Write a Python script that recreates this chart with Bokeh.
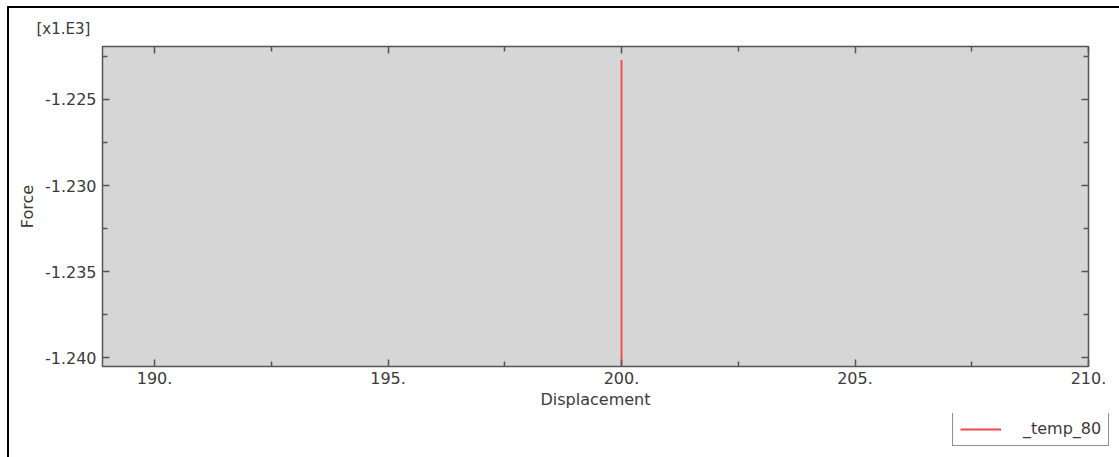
from bokeh.plotting import figure
from bokeh.layouts import column
from bokeh.models import (LinearAxis, FixedTicker, CustomJSTickFormatter, Range1d,
                          Legend, LegendItem)
from bokeh.embed import file_html
from bokeh.resources import INLINE

# data
displacement = [200.0, 200.0]
force = [-1222.7, -1241.0]
series_name = "_temp_80"
x_major = [190, 195, 200, 205, 210]
x_minor = [187.5, 192.5, 197.5, 202.5, 207.5]
y_major = [-1225, -1230, -1235, -1240]
y_minor = [-1222.5, -1227.5, -1232.5, -1237.5]

FONT = "DejaVu Sans"
TXT = "#3a3a3a"
LINE = "#f04848"

p = figure(width=1110, height=405, output_backend="svg", toolbar_location=None,
           x_range=Range1d(188.886, 210.0), y_range=Range1d(-1240.52, -1221.92),
           min_border_left=93, min_border_right=31, min_border_top=38,
           min_border_bottom=47, x_axis_location="below", y_axis_location="left")
p.frame_align = False
p.background_fill_color = "#d6d6d6"
p.border_fill_color = "white"
p.outline_line_color = "#555555"
p.outline_line_width = 1.5
p.xgrid.visible = False
p.ygrid.visible = False

p.title.text = "[x1.E3]"
p.title.align = "left"
p.title.offset = -66
p.title.text_font = FONT
p.title.text_font_size = "15px"
p.title.text_font_style = "normal"
p.title.text_color = TXT

xt = FixedTicker(ticks=x_major, minor_ticks=x_minor)
yt = FixedTicker(ticks=y_major, minor_ticks=y_minor)
xf = CustomJSTickFormatter(code="return tick.toFixed(0) + '.';")
yf = CustomJSTickFormatter(code="return (tick/1000).toFixed(3);")
blank = CustomJSTickFormatter(code="return ' ';")

def style_axis(ax):
    ax.axis_line_color = None
    ax.major_tick_in = 7
    ax.major_tick_out = 0
    ax.minor_tick_in = 5
    ax.minor_tick_out = 0
    ax.major_tick_line_color = "#555555"
    ax.minor_tick_line_color = "#555555"
    ax.major_tick_line_width = 1.5
    ax.minor_tick_line_width = 1.5
    ax.major_label_text_font = FONT
    ax.major_label_text_font_size = "16px"
    ax.major_label_text_color = TXT
    ax.axis_label_text_font = FONT
    ax.axis_label_text_font_size = "16px"
    ax.axis_label_text_font_style = "normal"
    ax.axis_label_text_color = TXT

p.xaxis.ticker = xt
p.xaxis.formatter = xf
p.yaxis.ticker = yt
p.yaxis.formatter = yf
style_axis(p.xaxis[0])
style_axis(p.yaxis[0])
p.xaxis.axis_label = "Displacement"
p.yaxis.axis_label = "Force"
p.xaxis.major_label_standoff = 5
p.xaxis.axis_label_standoff = 3
p.yaxis.major_label_standoff = 6
p.yaxis.axis_label_standoff = 5

top_ax = LinearAxis(ticker=xt, formatter=blank)
style_axis(top_ax)
top_ax.major_label_standoff = 0
top_ax.major_label_text_font_size = "1px"
p.add_layout(top_ax, "above")
right_ax = LinearAxis(ticker=yt, formatter=blank)
style_axis(right_ax)
right_ax.major_label_standoff = 0
right_ax.major_label_text_font_size = "1px"
p.add_layout(right_ax, "right")

p.line(displacement, force, line_color=LINE, line_width=1.8)

# legend strip below the axes (legend is drawn in its own small canvas)
p2 = figure(width=1110, height=44, output_backend="svg", toolbar_location=None,
            x_range=Range1d(0, 1), y_range=Range1d(0, 1),
            x_axis_type=None, y_axis_type=None,
            min_border_left=0, min_border_right=0, min_border_top=0, min_border_bottom=0)
p2.frame_align = False
p2.outline_line_color = None
p2.background_fill_color = "white"
p2.border_fill_color = "white"
p2.xgrid.visible = False
p2.ygrid.visible = False
r2 = p2.line(displacement, force, line_color=LINE, line_width=1.8)

legend = Legend(items=[LegendItem(label=series_name, renderers=[r2])],
                location=(943, 11), orientation="vertical")
legend.border_line_color = "#222222"
legend.border_line_width = 1
legend.background_fill_color = "white"
legend.background_fill_alpha = 1.0
legend.padding = 7
legend.margin = 0
legend.glyph_width = 41
legend.glyph_height = 16
legend.label_standoff = 22
legend.label_text_font = FONT
legend.label_text_font_size = "16px"
legend.label_text_color = TXT
p2.add_layout(legend, "center")

lay = column(p, p2, spacing=0)
lay.styles = {"border-left": "2px solid black", "border-top": "2px solid black",
              "position": "relative", "left": "7px", "top": "6px"}

open("out.html", "w").write(file_html(lay, INLINE))
